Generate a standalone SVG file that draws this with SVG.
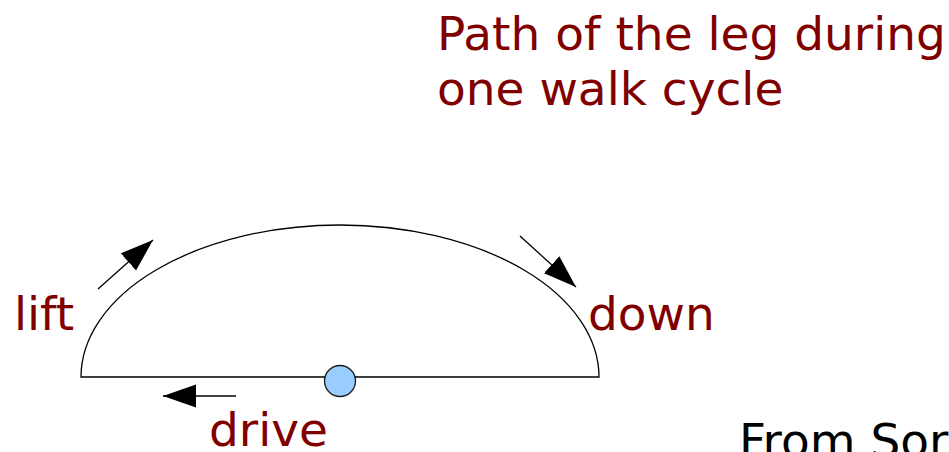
<svg xmlns="http://www.w3.org/2000/svg" width="949" height="452" viewBox="0 0 949 452">
<style>
.lbl{font-family:"DejaVu Sans",sans-serif;font-size:47px;fill:#800000}
.blk{font-family:"DejaVu Sans",sans-serif;font-size:47px;fill:#000}
.ln{stroke:#000;stroke-width:1.3;fill:none}
</style>
<defs>
<marker id="ah" markerUnits="userSpaceOnUse" markerWidth="34" markerHeight="24" refX="33" refY="11.5" orient="auto">
<path d="M0,0 L33,11.5 L0,23 z" fill="#000"/>
</marker>
</defs>
<rect width="949" height="452" fill="#fff"/>
<g id="title"><text class="lbl" x="437" y="50">Path of the leg during</text><text class="lbl" x="437" y="105">one walk cycle</text></g>
<g id="path"><path class="ln" d="M81,377 A259,152 0 0 1 599,377 Z"/></g>
<g id="foot"><circle cx="340" cy="381" r="15.5" fill="#99ccff" stroke="#1a1a1a" stroke-width="1.3"/></g>
<g id="connectors">
<line class="ln" x1="98" y1="289" x2="153" y2="240" marker-end="url(#ah)"/>
<line class="ln" x1="520" y1="236" x2="576" y2="287" marker-end="url(#ah)"/>
<line class="ln" x1="236" y1="396" x2="163" y2="396" marker-end="url(#ah)"/>
</g>
<g id="lift"><text class="lbl" x="14" y="330">lift</text></g>
<g id="down"><text class="lbl" x="588" y="330">down</text></g>
<g id="drive"><text class="lbl" x="209" y="446">drive</text></g>
<g id="source"><text class="blk" x="739" y="457">From Sor</text></g>
</svg>
